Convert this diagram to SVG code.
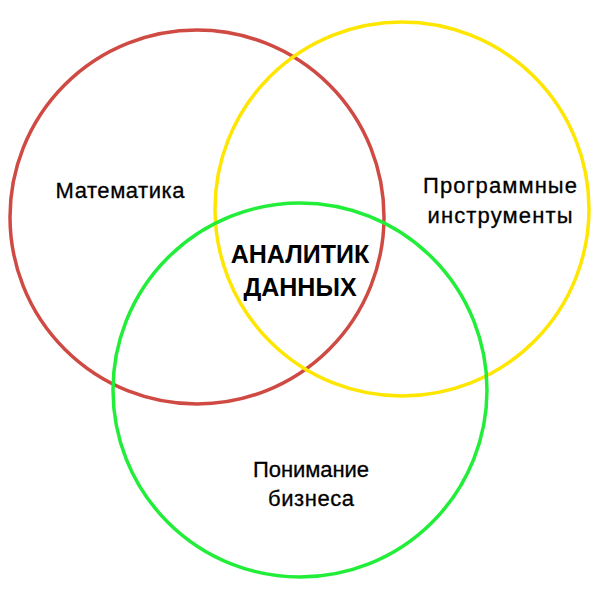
<svg xmlns="http://www.w3.org/2000/svg" width="600" height="600" viewBox="0 0 600 600">
<style>
.c{fill:none;stroke-width:3.5}
.t{font-family:"Liberation Sans",Arial,sans-serif;font-size:22px;fill:#000;stroke:#000;stroke-width:0.3;text-anchor:middle}
.b{font-family:"Liberation Sans",Arial,sans-serif;font-size:25px;font-weight:bold;fill:#000;text-anchor:middle}
</style>
<rect width="600" height="600" fill="#fff"/>
<g id="math"><circle class="c" cx="197" cy="217" r="187" stroke="#d04a44"/></g>
<g id="tools"><circle class="c" cx="402" cy="209" r="187" stroke="#ffe600"/></g>
<g id="business"><circle class="c" cx="300" cy="390" r="187" stroke="#22ee3a"/></g>
<g id="connectors"></g>
<g id="labels">
<text class="t" x="120" y="198" textLength="129" lengthAdjust="spacing">Математика</text>
<text class="t" x="500" y="193" textLength="154" lengthAdjust="spacing">Программные</text>
<text class="t" x="500" y="223" textLength="145" lengthAdjust="spacing">инструменты</text>
<text class="b" x="300" y="263">АНАЛИТИК</text>
<text class="b" x="300" y="296">ДАННЫХ</text>
<text class="t" x="311" y="477" textLength="116" lengthAdjust="spacing">Понимание</text>
<text class="t" x="311" y="506" textLength="86" lengthAdjust="spacing">бизнеса</text>
</g>
</svg>
